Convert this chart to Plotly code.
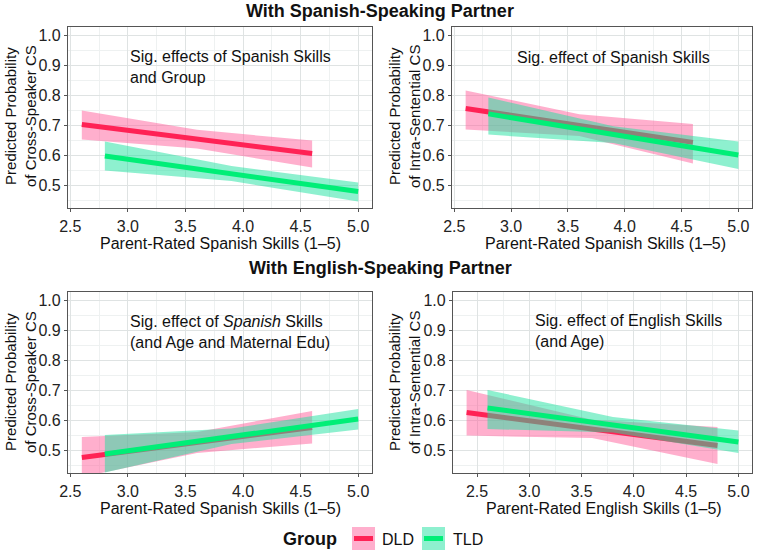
import plotly.graph_objects as go

W, H = 761, 553

# ---------------- data ----------------
# Panel A: Spanish partner, cross-speaker CS
a_dld_x = [2.6, 3.6, 4.6]
a_dld_fit = [0.702, 0.653, 0.605]
a_dld_lo = [0.652, 0.622, 0.558]
a_dld_hi = [0.748, 0.684, 0.648]
a_tld_x = [2.8, 3.9, 5.0]
a_tld_fit = [0.597, 0.537, 0.478]
a_tld_lo = [0.548, 0.513, 0.445]
a_tld_hi = [0.645, 0.563, 0.508]

# Panel B: Spanish partner, intra-sentential CS
b_dld_x = [2.6, 3.6, 4.6]
b_dld_fit = [0.755, 0.700, 0.642]
b_dld_lo = [0.685, 0.663, 0.572]
b_dld_hi = [0.815, 0.736, 0.703]
b_tld_x = [2.8, 3.9, 5.0]
b_tld_fit = [0.737, 0.668, 0.600]
b_tld_lo = [0.668, 0.640, 0.553]
b_tld_hi = [0.792, 0.696, 0.645]

# Panel C: English partner, cross-speaker CS
c_dld_x = [2.6, 3.6, 4.6]
c_dld_fit = [0.475, 0.525, 0.575]
c_dld_lo = [0.410, 0.490, 0.522]
c_dld_hi = [0.543, 0.560, 0.630]
c_tld_x = [2.8, 3.9, 5.0]
c_tld_fit = [0.487, 0.545, 0.603]
c_tld_lo = [0.425, 0.520, 0.568]
c_tld_hi = [0.550, 0.572, 0.637]

# Panel D: English partner, intra-sentential CS
d_dld_x = [2.4, 3.6, 4.8]
d_dld_fit = [0.625, 0.570, 0.515]
d_dld_lo = [0.548, 0.540, 0.453]
d_dld_hi = [0.700, 0.601, 0.577]
d_tld_x = [2.6, 3.8, 5.0]
d_tld_fit = [0.640, 0.583, 0.527]
d_tld_lo = [0.570, 0.558, 0.490]
d_tld_hi = [0.700, 0.610, 0.565]

groups = ["DLD", "TLD"]
panel_notes = [
    "Sig. effects of Spanish Skills<br>and Group",
    "Sig. effect of Spanish Skills",
    "Sig. effect of <i>Spanish</i> Skills<br>(and Age and Maternal Edu)",
    "Sig. effect of English Skills<br>(and Age)",
]
x_titles = [
    "Parent-Rated Spanish Skills (1\u20135)",
    "Parent-Rated Spanish Skills (1\u20135)",
    "Parent-Rated Spanish Skills (1\u20135)",
    "Parent-Rated English Skills (1\u20135)",
]
y_titles = [
    "Predicted Probability<br>of Cross-Speaker CS",
    "Predicted Probability<br>of Intra-Sentential CS",
    "Predicted Probability<br>of Cross-Speaker CS",
    "Predicted Probability<br>of Intra-Sentential CS",
]
row_titles = ["With Spanish-Speaking Partner", "With English-Speaking Partner"]

panels = [
    (a_dld_x, a_dld_fit, a_dld_lo, a_dld_hi, a_tld_x, a_tld_fit, a_tld_lo, a_tld_hi),
    (b_dld_x, b_dld_fit, b_dld_lo, b_dld_hi, b_tld_x, b_tld_fit, b_tld_lo, b_tld_hi),
    (c_dld_x, c_dld_fit, c_dld_lo, c_dld_hi, c_tld_x, c_tld_fit, c_tld_lo, c_tld_hi),
    (d_dld_x, d_dld_fit, d_dld_lo, d_dld_hi, d_tld_x, d_tld_fit, d_tld_lo, d_tld_hi),
]
x_ranges = [[2.48, 5.12], [2.48, 5.12], [2.48, 5.12], [2.27, 5.13]]
y_range = [0.4225, 1.0275]

# ---------------- styles ----------------
FONT = "Liberation Sans, Arial, sans-serif"
LINE_COL = {"DLD": "#ff2255", "TLD": "#00ee77"}
RIB_COL = {"DLD": "rgba(255,95,155,0.5)", "TLD": "rgba(30,225,160,0.5)"}

def px(x):
    return x / W

def py(y):
    return 1 - y / H

# panel pixel boxes: (left, right, top, bottom)
boxes = [
    (68, 372, 26.75, 208.25),
    (452, 752, 26.75, 208.25),
    (68, 372, 291.75, 473.25),
    (453, 752, 291.75, 473.25),
]

fig = go.Figure()
layout_axes = {}
for i, (box, data) in enumerate(zip(boxes, panels)):
    n = i + 1
    xa = "x" if n == 1 else f"x{n}"
    ya = "y" if n == 1 else f"y{n}"
    dx, dfit, dlo, dhi, tx, tfit, tlo, thi = data
    series = [("DLD", dx, dfit, dlo, dhi), ("TLD", tx, tfit, tlo, thi)]
    for g, xs, fit, lo, hi in series:
        fig.add_trace(go.Scatter(
            x=list(xs) + list(xs)[::-1], y=list(hi) + list(lo)[::-1],
            fill="toself", fillcolor=RIB_COL[g], line=dict(width=0),
            mode="lines", hoverinfo="skip", showlegend=False,
            xaxis=xa, yaxis=ya))
        fig.add_trace(go.Scatter(
            x=xs, y=fit, mode="lines", line=dict(color=LINE_COL[g], width=5),
            name=g, showlegend=False, xaxis=xa, yaxis=ya))
    l, r, t, b = box
    axcommon = dict(
        showline=True, linecolor="#555555", linewidth=1.3, mirror=True,
        ticks="outside", ticklen=3, tickcolor="#555555",
        tickfont=dict(family=FONT, size=16, color="#222222"),
        gridcolor="#dfe3e3", gridwidth=1, zeroline=False, automargin=False,
    )
    layout_axes["xaxis" if n == 1 else f"xaxis{n}"] = dict(
        domain=[px(l), px(r)], range=x_ranges[i], anchor=ya,
        dtick=0.5, tick0=2.5, tickformat=".1f",
        minor=dict(dtick=0.25, tick0=2.5, showgrid=True, gridcolor="#eef1f1"),
        **axcommon)
    layout_axes["yaxis" if n == 1 else f"yaxis{n}"] = dict(
        domain=[py(b), py(t)], range=y_range, anchor=xa,
        dtick=0.1, tick0=0.5, tickformat=".1f",
        minor=dict(dtick=0.05, tick0=0.5, showgrid=True, gridcolor="#eef1f1"),
        **axcommon)


def ann(text, x, y, size, angle=0, xanchor="center", yanchor="middle", align="center"):
    return dict(text=text, x=px(x), y=py(y), xref="paper", yref="paper",
                showarrow=False, textangle=angle, xanchor=xanchor, yanchor=yanchor,
                align=align, font=dict(family=FONT, size=size, color="#111111"))


annotations = []
for rt, yy in zip(row_titles, [11, 268]):
    annotations.append(ann("<b>" + rt + "</b>", 380, yy, 18))
note_pos = [(128, 46), (515, 47), (128, 311), (533, 310)]
xt_pos = [(220, 243), (605, 243), (220, 508), (604, 508)]
yt_pos = [(20, 116), (404, 116), (20, 382), (404, 382)]
for i in range(4):
    annotations.append(ann(panel_notes[i], note_pos[i][0], note_pos[i][1], 16,
                           xanchor="left", yanchor="top", align="left"))
    annotations.append(ann(x_titles[i], xt_pos[i][0], xt_pos[i][1], 16))
    annotations.append(ann(y_titles[i], yt_pos[i][0], yt_pos[i][1], 15, angle=-90))

# legend (drawn manually)
annotations.append(ann("<b>Group</b>", 310, 539, 18))
shapes = []
for g, kx, lx in [("DLD", 352, 398), ("TLD", 422, 468)]:
    shapes.append(dict(type="rect", xref="paper", yref="paper",
                       x0=px(kx), x1=px(kx + 23), y0=py(550), y1=py(527),
                       fillcolor=RIB_COL[g], line=dict(width=0)))
    shapes.append(dict(type="line", xref="paper", yref="paper",
                       x0=px(kx + 2), x1=px(kx + 21), y0=py(538.5), y1=py(538.5),
                       line=dict(color=LINE_COL[g], width=5)))
    annotations.append(ann(g, lx, 539, 16))

fig.update_layout(
    width=W, height=H, margin=dict(l=0, r=0, t=0, b=0, autoexpand=False),
    paper_bgcolor="white", plot_bgcolor="white",
    showlegend=False, annotations=annotations, shapes=shapes,
    **layout_axes)

fig.write_html("out.html", config={"displayModeBar": False},
               post_script="document.body.style.margin='0';")
